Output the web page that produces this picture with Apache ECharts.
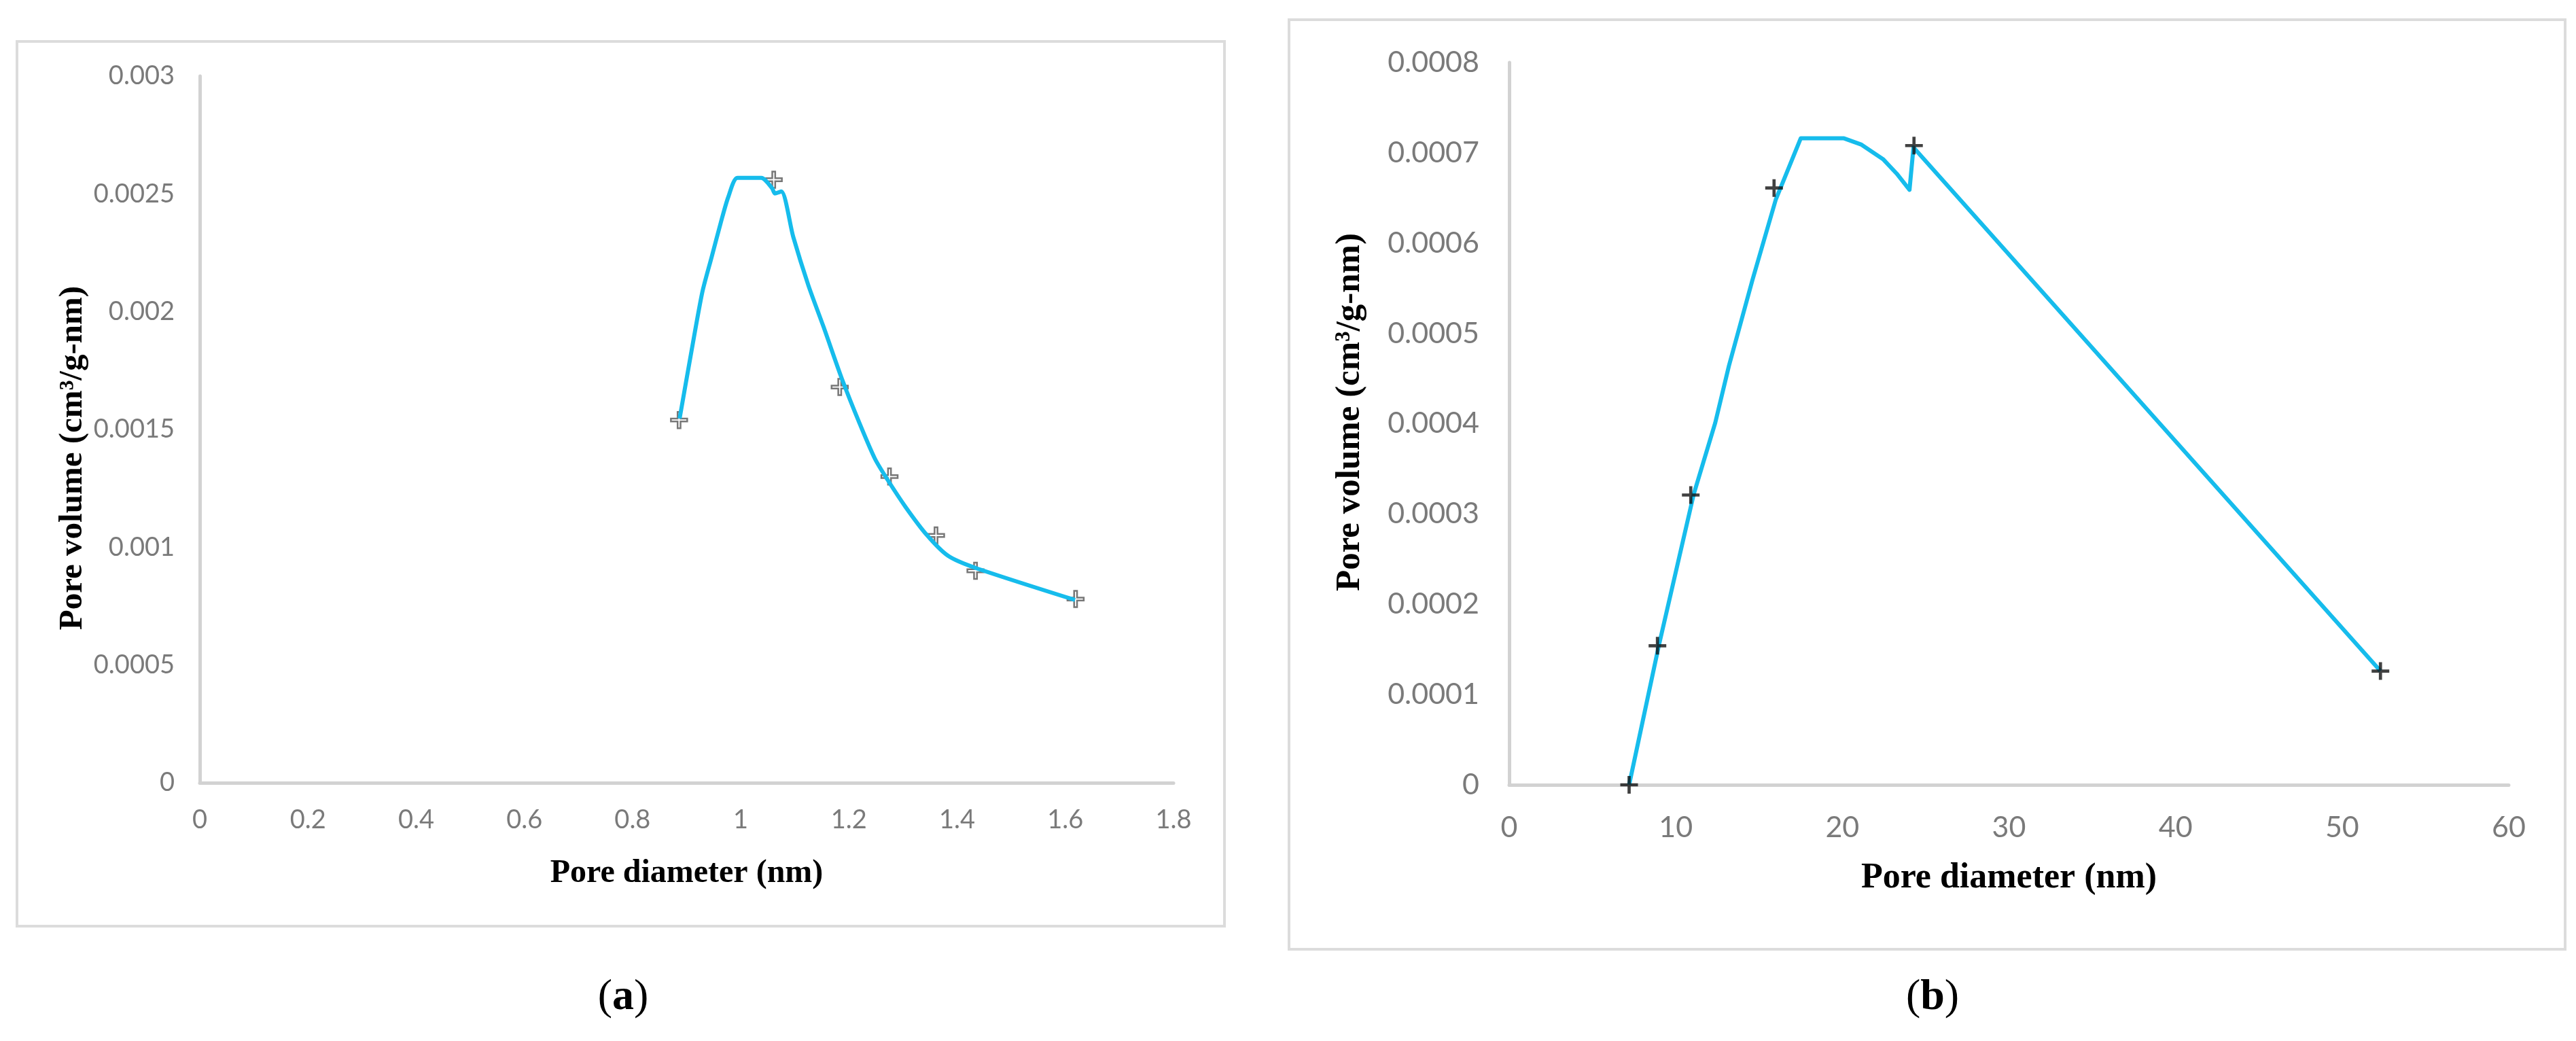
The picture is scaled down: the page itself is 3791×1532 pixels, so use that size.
<!DOCTYPE html>
<html>
<head>
<meta charset="utf-8">
<script src="https://cdn.jsdelivr.net/npm/echarts@6/dist/echarts.min.js"></script>
<style>
html,body{margin:0;padding:0;background:#fff;}
#c{width:3791px;height:1532px;}
</style>
</head>
<body>
<div id="c"></div>
<script>
// Panel (a) data
const aMarkX = [0.886, 1.061, 1.183, 1.275, 1.361, 1.434, 1.619];
const aMarkY = [0.00154, 0.00256, 0.00168, 0.00130, 0.00105, 0.00090, 0.00078];
const aCurveX = [0.887, 0.909, 0.929, 0.946, 0.963, 0.977, 0.994, 1.038, 1.058, 1.063, 1.075, 1.097, 1.125, 1.153, 1.187, 1.220, 1.248, 1.271, 1.305, 1.344, 1.383, 1.433, 1.618];
const aCurveY = [0.001546, 0.001833, 0.002083, 0.00223, 0.002377, 0.002487, 0.002568, 0.002568, 0.002524, 0.002502, 0.00251, 0.002318, 0.002112, 0.001936, 0.001715, 0.001524, 0.001376, 0.001288, 0.00117, 0.001052, 0.000964, 0.000913, 0.000776];
const aXTicks = {min: 0, max: 1.8, interval: 0.2};
const aYTicks = {min: 0, max: 0.003, interval: 0.0005};

// Panel (b) data
const bMarkX = [7.2, 8.9, 10.9, 15.9, 24.3, 52.3];
const bMarkY = [0, 0.000154, 0.000321, 0.000661, 0.000708, 0.000126];
const bCurveX = [7.2, 8.98, 11.08, 12.37, 13.19, 14.6, 16.0, 17.5, 20.1, 21.15, 22.44, 23.26, 24.03, 24.27, 52.3];
const bCurveY = [0, 0.000154, 0.000322, 0.000401, 0.000464, 0.000559, 0.000648, 0.000716, 0.000716, 0.000709, 0.000693, 0.000677, 0.000659, 0.000706, 0.000126];
const bXTicks = {min: 0, max: 60, interval: 10};
const bYTicks = {min: 0, max: 0.0008, interval: 0.0001};

const xName = 'Pore diameter (nm)';
const yName = 'Pore volume (cm³/g-nm)';
const captions = ['a', 'b'];

const zip = (xs, ys) => xs.map((x, i) => [x, ys[i]]);
const plus = 'path://M4.1,0 H5.9 V4.1 H10 V5.9 H5.9 V10 H4.1 V5.9 H0 V4.1 H4.1 Z';
const cyan = '#16BCEC';
const serif = '"Liberation Serif", "DejaVu Serif", serif';
const sans = 'Lato, "Open Sans", sans-serif';

function xAxis(idx, t, fs, margin, nameGap, nameFs) {
  return {
    type: 'value', gridIndex: idx, min: t.min, max: t.max, interval: t.interval,
    axisLine: {show: true, lineStyle: {color: '#d2d2d2', width: 5}},
    axisTick: {show: false}, splitLine: {show: false},
    axisLabel: {color: '#7a7a7a', fontSize: fs, fontFamily: sans, margin: margin},
    name: xName, nameLocation: 'middle', nameGap: nameGap,
    nameTextStyle: {color: '#000', fontFamily: serif, fontWeight: 'bold', fontSize: nameFs, verticalAlign: 'middle'}
  };
}
function yAxis(idx, t, fs, margin, nameGap, nameFs, pad) {
  return {
    type: 'value', gridIndex: idx, min: t.min, max: t.max, interval: t.interval,
    axisLine: {show: true, lineStyle: {color: '#d2d2d2', width: 5}},
    axisTick: {show: false}, splitLine: {show: false},
    axisLabel: {color: '#7a7a7a', fontSize: fs, fontFamily: sans, margin: margin},
    name: yName, nameLocation: 'middle', nameGap: nameGap, nameRotate: 90,
    nameTextStyle: {color: '#000', fontFamily: serif, fontWeight: 'bold', fontSize: nameFs, verticalAlign: 'middle', padding: pad}
  };
}

const chart = echarts.init(document.getElementById('c'), null, {renderer: 'canvas'});
chart.setOption({
  backgroundColor: '#fff',
  animation: false,
  graphic: [
    {type: 'rect', shape: {x: 25, y: 61, width: 1777, height: 1302}, style: {fill: 'none', stroke: '#dcdcdc', lineWidth: 4}, z: -1},
    {type: 'rect', shape: {x: 1897, y: 29, width: 1878, height: 1368}, style: {fill: 'none', stroke: '#dcdcdc', lineWidth: 4}, z: -1}
  ],
  title: captions.map((c, i) => ({
    text: '{p|(}{b|' + c + '}{p|)}',
    left: i === 0 ? 912 : 2839, top: 1463, textAlign: 'center', textVerticalAlign: 'middle',
    textStyle: {fontWeight: 'normal', rich: {
      p: {fontFamily: serif, fontSize: 64, fontWeight: 'normal', color: '#000'},
      b: {fontFamily: serif, fontSize: 64, fontWeight: 'bold', color: '#000'}
    }}
  })),
  grid: [
    {left: 294, top: 112, width: 1433, height: 1040},
    {left: 2221, top: 92, width: 1471, height: 1063}
  ],
  xAxis: [
    xAxis(0, aXTicks, 38, 36, 134, 48),
    xAxis(1, bXTicks, 43, 42, 138, 52)
  ],
  yAxis: [
    yAxis(0, aYTicks, 38, 37, 187, 49, [0, 84, 0, 0]),
    yAxis(1, bYTicks, 43, 44, 234, 51, [0, 0, 0, 34])
  ],
  series: [
    {type: 'scatter', xAxisIndex: 0, yAxisIndex: 0, data: zip(aMarkX, aMarkY), symbol: plus, symbolSize: 24,
     itemStyle: {color: 'rgba(255,255,255,0.5)', borderColor: '#555', borderWidth: 2.5}, z: 2},
    {type: 'line', xAxisIndex: 0, yAxisIndex: 0, data: zip(aCurveX, aCurveY), showSymbol: false, smooth: 0.25,
     lineStyle: {color: cyan, width: 6, join: 'round'}, z: 3},
    {type: 'line', xAxisIndex: 1, yAxisIndex: 1, data: zip(bCurveX, bCurveY), showSymbol: false, smooth: false,
     lineStyle: {color: cyan, width: 6, join: 'round'}, z: 2},
    {type: 'scatter', xAxisIndex: 1, yAxisIndex: 1, data: zip(bMarkX, bMarkY), symbol: plus, symbolSize: 26,
     itemStyle: {color: '#111'}, z: 3}
  ]
});
</script>
</body>
</html>
